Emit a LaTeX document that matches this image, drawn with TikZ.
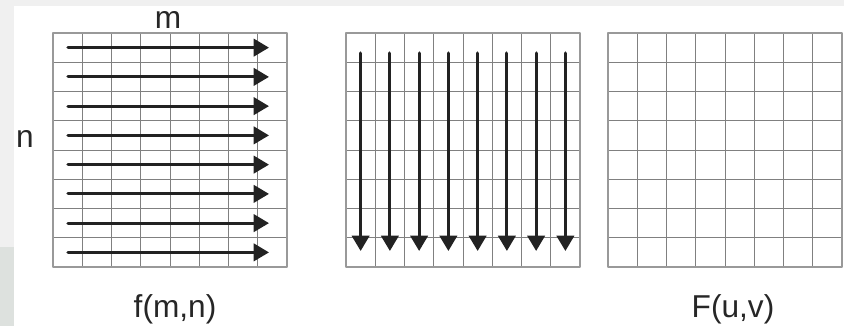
\documentclass[tikz,border=0pt]{standalone}
\usepackage{fontspec}
\setmainfont{Liberation Sans}
\usepackage{xcolor}
\usetikzlibrary{arrows.meta}
\usetikzlibrary{positioning,calc}

\definecolor{stripgray}{HTML}{F0F0F0}
\definecolor{stripgreen}{HTML}{DDE1DE}
\definecolor{arrowdark}{HTML}{222222}

\begin{document}
\begin{tikzpicture}[x=0.03cm,y=-0.03cm,>=Latex,line join=round,line cap=round]
% -------------------------------------------------
% Styles
% -------------------------------------------------
\tikzset{
  cellline/.style={draw=black!50, line width=0.7pt},
  frameline/.style={draw=black!40, line width=1.6pt, line cap=rect},
  scanarrow/.style={-{Triangle[length=4.6mm,width=5.2mm]}, line width=2.6pt, draw=arrowdark, fill=arrowdark},
  lbl/.style={font=\fontsize{27}{27}\selectfont, text=black!85, anchor=base, inner sep=0pt},
}
% -------------------------------------------------
% page and strips
% -------------------------------------------------
\useasboundingbox (0,0) rectangle (844,326);
\fill[white] (0,0) rectangle (844,326);
\fill[stripgray] (0,0) rectangle (844,6);
\fill[stripgray] (0,0) rectangle (14,247);
\fill[stripgreen] (0,247) rectangle (14,326);
% -------------------------------------------------
% GRIDS
% -------------------------------------------------
\foreach \gx in {53,346,608}{
\begin{scope}[shift={(\gx,33)}]
  \foreach \k in {1,...,7}{
    \draw[cellline] (\k*29.25,0) -- (\k*29.25,234);
    \draw[cellline] (0,\k*29.25) -- (234,\k*29.25);
  }
  \draw[frameline] (0,0) rectangle (234,234);
\end{scope}
}
% -------------------------------------------------
% GRID 1: row arrows
% -------------------------------------------------
\begin{scope}[shift={(53,33)}]
\foreach \r in {1,...,8}{
  \coordinate (rs\r) at (15,{(\r-0.5)*29.25});
  \coordinate (re\r) at (216,{(\r-0.5)*29.25});
  \draw[scanarrow] (rs\r) -- (re\r);
}
\end{scope}
% -------------------------------------------------
% GRID 2: column arrows
% -------------------------------------------------
\begin{scope}[shift={(346,33)}]
\foreach \c in {1,...,8}{
  \coordinate (cs\c) at ({(\c-0.5)*29.25},20);
  \coordinate (ce\c) at ({(\c-0.5)*29.25},218);
  \draw[scanarrow] (cs\c) -- (ce\c);
}
\end{scope}
% -------------------------------------------------
% labels
% -------------------------------------------------
\node[lbl] (mlabel) at (168,28) {m};
\node[lbl] (nlabel) at (25,147) {n};
\node[lbl] (flabel) at (175,317) {f(m,n)};
\node[lbl] (Flabel) at (733,317) {F(u,v)};

\end{tikzpicture}
\end{document}
